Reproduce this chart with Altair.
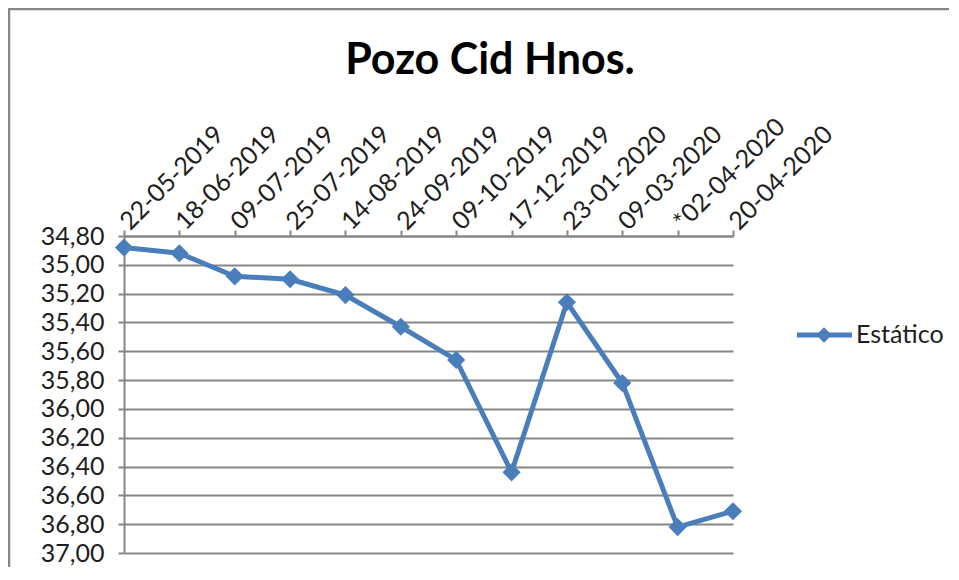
import altair as alt
import pandas as pd

fechas = ["22-05-2019", "18-06-2019", "09-07-2019", "25-07-2019", "14-08-2019",
          "24-09-2019", "09-10-2019", "17-12-2019", "23-01-2020", "09-03-2020",
          "*02-04-2020", "20-04-2020"]
estatico = [34.88, 34.92, 35.08, 35.10, 35.21, 35.43, 35.66, 36.44, 35.26, 35.82, 36.82, 36.71]
y_ticks = [34.8, 35.0, 35.2, 35.4, 35.6, 35.8, 36.0, 36.2, 36.4, 36.6, 36.8, 37.0]
serie = "Estático"
titulo = "Pozo Cid Hnos."

df = pd.DataFrame({"fecha": fechas, "valor": estatico, "serie": [serie] * len(fechas)})
one = pd.DataFrame({"serie": [serie], "titulo": [titulo]})

W, H = 609, 317
BLUE = "#4A7EBB"
GRAY = "#868686"
FONT = "Lato"
TXT = "#1e1e1e"

x = alt.X(
    "fecha:N", sort=None,
    scale=alt.Scale(type="point", padding=0),
    axis=alt.Axis(orient="top", labelAngle=315, labelAlign="left", labelBaseline="middle",
                  labelPadding=5, labelFontSize=25, labelFont=FONT, labelColor=TXT,
                  labelOverlap=False, tickSize=6, tickColor=GRAY, tickWidth=2,
                  domainColor=GRAY, domainWidth=2, grid=False, title=None),
)
y = alt.Y(
    "valor:Q",
    scale=alt.Scale(domain=[34.8, 37.0], reverse=True, nice=False, zero=False),
    axis=alt.Axis(values=y_ticks, labelExpr="replace(format(datum.value, '.2f'), '.', ',')",
                  labelFontSize=25, labelFont=FONT, labelColor=TXT, labelPadding=14,
                  labelOverlap=False, labelFlush=False, tickSize=6, tickColor=GRAY, tickWidth=2,
                  domainColor=GRAY, domainWidth=2, grid=True, gridColor=GRAY, gridWidth=2,
                  title=None),
)

base = alt.Chart(df)
line = base.mark_line(color=BLUE, strokeWidth=5).encode(x=x, y=y)
pts = base.mark_point(shape="diamond", filled=True, size=330, color=BLUE, opacity=1).encode(x=x, y=y)

deco = alt.Chart(one)
frame_left = deco.mark_rule(color=GRAY, strokeWidth=2.5).encode(
    x=alt.value(-115), y=alt.value(-228), y2=alt.value(H + 30))
frame_top = deco.mark_rule(color=GRAY, strokeWidth=2.5).encode(
    x=alt.value(-116), x2=alt.value(W + 240), y=alt.value(-227))
title = deco.mark_text(font=FONT, fontSize=43, fontWeight="bold", align="center",
                       baseline="alphabetic", color="#000").encode(
    x=alt.value(366), y=alt.value(-162), text="titulo:N")
leg_line = deco.mark_rule(color=BLUE, strokeWidth=5).encode(
    x=alt.value(673), x2=alt.value(728), y=alt.value(99))
leg_pt = deco.mark_point(shape="diamond", filled=True, size=240, color=BLUE, opacity=1).encode(
    x=alt.value(700), y=alt.value(99))
leg_txt = deco.mark_text(font=FONT, fontSize=25, align="left", baseline="middle", color=TXT).encode(
    x=alt.value(732), y=alt.value(99), text="serie:N")

chart = alt.layer(frame_left, frame_top, title, line, pts, leg_line, leg_pt, leg_txt).properties(
    width=W, height=H,
    padding={"left": 116, "top": 228, "right": 216, "bottom": 14},
    autosize=alt.AutoSizeParams(type="none"),
    background="white",
).configure_view(stroke=None)

chart.save("out.html", embed_options={"renderer": "svg", "actions": False})
